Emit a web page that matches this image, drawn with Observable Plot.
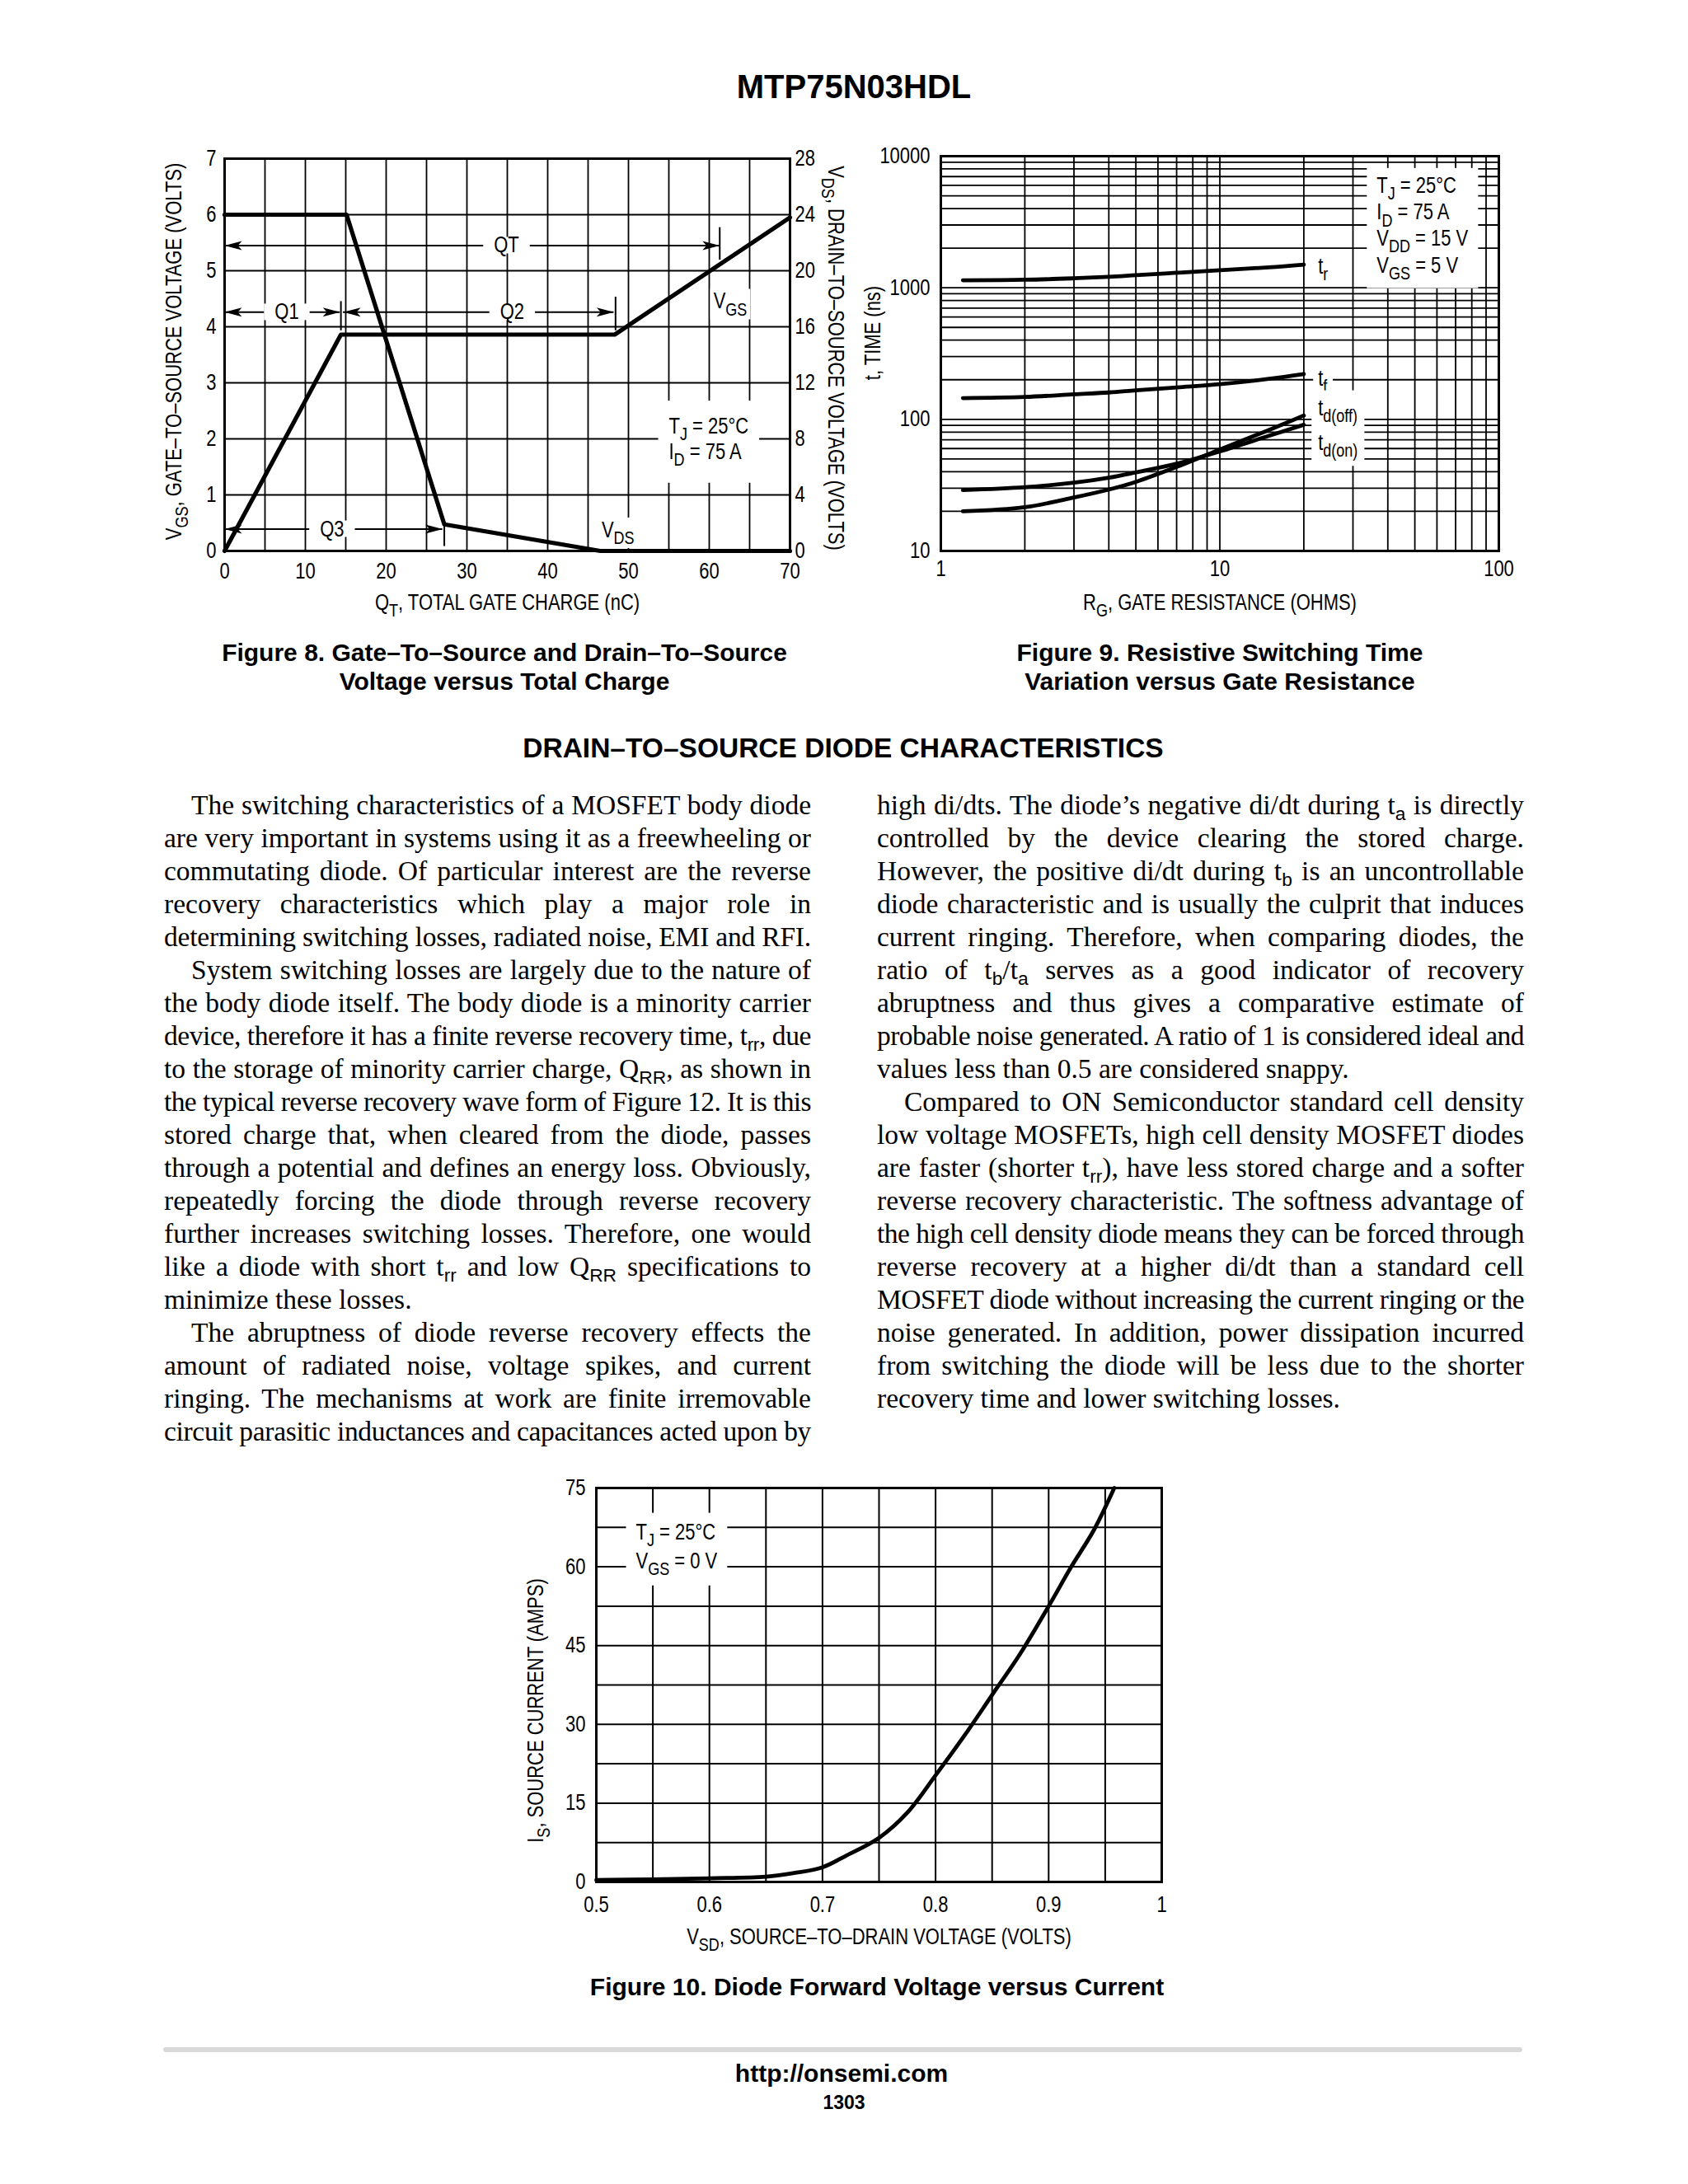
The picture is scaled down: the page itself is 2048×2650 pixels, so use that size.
<!DOCTYPE html>
<html><head><meta charset="utf-8">
<script src="https://cdn.jsdelivr.net/npm/d3@7"></script>
<script src="https://cdn.jsdelivr.net/npm/@observablehq/plot@0.6"></script>
<style>
 body{margin:0;background:#fff;}
 #page{position:relative;width:2048px;height:2650px;overflow:hidden;background:#fff;color:#000;}
 .txt{position:absolute;white-space:nowrap;transform:translate(-50%,-50%);line-height:1.15;font-family:"Liberation Sans",Arial,Helvetica,sans-serif;}
 .line{position:absolute;height:40px;line-height:40px;font-family:"Liberation Serif","Times New Roman",serif;font-size:33.5px;white-space:nowrap;}
 .line sub{font-family:"Liberation Sans",Arial,sans-serif;font-size:0.68em;vertical-align:-0.3em;line-height:0;}
</style></head><body><div id="page"></div>
<script>
// ---------------- Figure 8 data ----------------
const qGrid = [0,5,10,15,20,25,30,35,40,45,50,55,60,65,70];
const vGrid = [0,1,2,3,4,5,6,7];
const qTicks = [0,10,20,30,40,50,60,70];
const vgsTicks = [0,1,2,3,4,5,6,7];
const vdsTicks = [0,4,8,12,16,20,24,28];
const vgsCharge = [0,14.4,48.3,70];
const vgsVolts = [0,3.86,3.86,5.95];
const vdsCharge = [0,15.1,27.2,46.5,70];
const vdsVolts = [24,24,1.9,0,0];
const chargeArrowNames = ["QT","Q1","Q2","Q3"];
const chargeArrowFrom = [0,0,14.7,0];
const chargeArrowTo = [61.3,14.3,48.2,27.0];
const chargeArrowLevel = [5.45,4.26,4.26,0.39];
const chargeArrowLabelAt = [34.9,7.7,35.6,13.3];
const chargeMarkAt = [61.3,14.4,48.4,27.2];
const chargeMarkLow = [5.19,3.93,3.93,0.08];
const chargeMarkHigh = [5.77,4.45,4.53,0.47];
const fig8CurveNames = ["V{GS}","V{DS}"];
const fig8CurveLabelX = [62.6,48.7];
const fig8CurveLabelY = [4.45,0.37];
const fig8Cond = ["T{J} = 25°C","I{D} = 75 A"];
const fig8CondX = [55.0,55.0];
const fig8CondY = [2.22,1.77];

// ---------------- Figure 9 data ----------------
const rgTicks = [1,10,100];
const tTicks = [10,100,1000,10000];
const rgGrid = [1,2,3,4,5,6,7,8,9,10,20,30,40,50,60,70,80,90,100];
const tGrid = [10,20,30,40,50,60,70,80,90,100,200,300,400,500,600,700,800,900,1000,2000,3000,4000,5000,6000,7000,8000,9000,10000];
const rg = [1.2,2,3,4,5,7,10,15,20];
const tRise = [1140,1150,1180,1210,1245,1300,1360,1430,1500];
const tFall = [145,148,155,160,166,175,185,203,221];
const tDelayOff = [20,21.5,25.5,29.3,33.5,43.5,59,83,107];
const tDelayOn = [29,30.5,33,36,39.5,46,57,75,91];
const fig9Names = ["t{r}","t{f}","t{d(off)}","t{d(on)}"];
const fig9LabelX = [22.5,22.5,22.5,22.5];
const fig9LabelY = [1450,205,122,66];
const fig9Cond = ["T{J} = 25°C","I{D} = 75 A","V{DD} = 15 V","V{GS} = 5 V"];
const fig9CondX = [36.5,36.5,36.5,36.5];
const fig9CondY = [5970,3730,2380,1480];

// ---------------- Figure 10 data ----------------
const vsdTicks = [0.5,0.6,0.7,0.8,0.9,1];
const isTicks = [0,15,30,45,60,75];
const vsdGrid = [0.5,0.55,0.6,0.65,0.7,0.75,0.8,0.85,0.9,0.95,1];
const isGrid = [0,7.5,15,22.5,30,37.5,45,52.5,60,67.5,75];
const vsd = [0.5,0.55,0.6,0.65,0.675,0.7,0.72,0.75,0.775,0.8,0.825,0.85,0.875,0.9,0.92,0.94,0.958];
const isrc = [0.35,0.5,0.7,1.0,1.7,2.8,4.9,8.4,13.2,20.3,27.7,35.6,43.5,52.5,60,67,75];
const fig10Cond = ["T{J} = 25°C","V{GS} = 0 V"];
const fig10CondX = [0.535,0.535];
const fig10CondY = [66.6,61.1];

// ---------------- Text ----------------
const leftColumn = [
 {indent:true, ends:true, lines:[
  "The switching characteristics of a MOSFET body diode",
  "are very important in systems using it as a freewheeling or",
  "commutating diode. Of particular interest are the reverse",
  "recovery characteristics which play a major role in",
  "determining switching losses, radiated noise, EMI and RFI."]},
 {indent:true, ends:true, lines:[
  "System switching losses are largely due to the nature of",
  "the body diode itself. The body diode is a minority carrier",
  "device, therefore it has a finite reverse recovery time, t<sub>rr</sub>, due",
  "to the storage of minority carrier charge, Q<sub>RR</sub>, as shown in",
  "the typical reverse recovery wave form of Figure 12. It is this",
  "stored charge that, when cleared from the diode, passes",
  "through a potential and defines an energy loss. Obviously,",
  "repeatedly forcing the diode through reverse recovery",
  "further increases switching losses. Therefore, one would",
  "like a diode with short t<sub>rr</sub> and low Q<sub>RR</sub> specifications to",
  "minimize these losses."]},
 {indent:true, ends:false, lines:[
  "The abruptness of diode reverse recovery effects the",
  "amount of radiated noise, voltage spikes, and current",
  "ringing. The mechanisms at work are finite irremovable",
  "circuit parasitic inductances and capacitances acted upon by"]}
];
const rightColumn = [
 {indent:false, ends:true, lines:[
  "high di/dts. The diode’s negative di/dt during t<sub>a</sub> is directly",
  "controlled by the device clearing the stored charge.",
  "However, the positive di/dt during t<sub>b</sub> is an uncontrollable",
  "diode characteristic and is usually the culprit that induces",
  "current ringing. Therefore, when comparing diodes, the",
  "ratio of t<sub>b</sub>/t<sub>a</sub> serves as a good indicator of recovery",
  "abruptness and thus gives a comparative estimate of",
  "probable noise generated. A ratio of 1 is considered ideal and",
  "values less than 0.5 are considered snappy."]},
 {indent:true, ends:true, lines:[
  "Compared to ON Semiconductor standard cell density",
  "low voltage MOSFETs, high cell density MOSFET diodes",
  "are faster (shorter t<sub>rr</sub>), have less stored charge and a softer",
  "reverse recovery characteristic. The softness advantage of",
  "the high cell density diode means they can be forced through",
  "reverse recovery at a higher di/dt than a standard cell",
  "MOSFET diode without increasing the current ringing or the",
  "noise generated. In addition, power dissipation incurred",
  "from switching the diode will be less due to the shorter",
  "recovery time and lower switching losses."]}
];

// ---------------- helpers ----------------
const SVGNS = "http://www.w3.org/2000/svg";
const FS = 26.8;
const SQUEEZE = 0.82;
const page = document.getElementById("page");
const chartStyle = {fontFamily:'"Liberation Sans", Arial, Helvetica, sans-serif', fontSize: FS + "px", color:"#000", background:"transparent", overflow:"visible"};
const headRight = {draw(c){ c.moveTo(0,0); c.lineTo(-21,-5.5); c.lineTo(-16,0); c.lineTo(-21,5.5); c.closePath(); }};
const headLeft = {draw(c){ c.moveTo(0,0); c.lineTo(21,-5.5); c.lineTo(16,0); c.lineTo(21,5.5); c.closePath(); }};
const plain = d => String(d);

function addText(html, cx, cy, size, bold){
  const d = document.createElement("div");
  d.className = "txt";
  d.style.left = cx + "px"; d.style.top = cy + "px";
  d.style.fontSize = size + "px";
  d.style.fontWeight = bold ? "bold" : "normal";
  d.innerHTML = html;
  page.appendChild(d);
  return d;
}

function applySubs(t){
  const s = t.textContent;
  if (!s.includes("{")) return;
  const fs = parseFloat(getComputedStyle(t).fontSize) || FS;
  const parts = s.split(/(\{[^}]*\})/).filter(p => p.length);
  t.textContent = "";
  const shift = 0.3 * fs;
  let down = false;
  for (const p of parts){
    const ts = document.createElementNS(SVGNS, "tspan");
    if (p[0] === "{"){
      ts.textContent = p.slice(1, -1);
      ts.setAttribute("font-size", (0.82 * fs).toFixed(2));
      if (!down){ ts.setAttribute("dy", shift.toFixed(2)); down = true; }
    } else {
      ts.textContent = p;
      if (down){ ts.setAttribute("dy", (-shift).toFixed(2)); down = false; }
    }
    t.appendChild(ts);
  }
}

function knockout(svg, specs){
  const texts = [...svg.querySelectorAll("text")];
  for (const sp of specs){
    const found = texts.filter(t => sp.texts.includes(t.textContent));
    if (!found.length) continue;
    const groups = sp.union ? [found] : found.map(t => [t]);
    for (const grp of groups){
      let x0 = Infinity, y0 = Infinity, x1 = -Infinity, y1 = -Infinity;
      for (const t of grp){
        const r = t.getBoundingClientRect();
        x0 = Math.min(x0, r.left); y0 = Math.min(y0, r.top);
        x1 = Math.max(x1, r.right); y1 = Math.max(y1, r.bottom);
      }
      const parent = grp[0].parentNode;
      const m = parent.getScreenCTM().inverse();
      const a = new DOMPoint(x0 - sp.px, y0 - sp.py).matrixTransform(m);
      const b = new DOMPoint(x1 + sp.px, y1 + sp.py).matrixTransform(m);
      const rect = document.createElementNS(SVGNS, "rect");
      rect.setAttribute("x", Math.min(a.x, b.x)); rect.setAttribute("y", Math.min(a.y, b.y));
      rect.setAttribute("width", Math.abs(b.x - a.x)); rect.setAttribute("height", Math.abs(b.y - a.y));
      rect.setAttribute("fill", "#fff"); rect.setAttribute("stroke", "none");
      parent.insertBefore(rect, grp[0]);
    }
  }
}

function mount(svg, left, top, specs){
  svg.style.position = "absolute";
  svg.style.left = left + "px";
  svg.style.top = top + "px";
  page.appendChild(svg);
  svg.querySelectorAll("text").forEach(applySubs);
  svg.querySelectorAll("text").forEach(t => {
    const L = t.getComputedTextLength();
    if (L > 0){ t.setAttribute("textLength", (L * SQUEEZE).toFixed(2)); t.setAttribute("lengthAdjust", "spacingAndGlyphs"); }
  });
  knockout(svg, specs);
}

const title = (txt, o) => Plot.text([txt], {textAnchor: "middle", lineAnchor: "middle", ...o});

// ---------------- Figure 8 ----------------
function fig8(){
  const vgs = vgsCharge.map((q, i) => ({q, v: vgsVolts[i]}));
  const vds = vdsCharge.map((q, i) => ({q, v: vdsVolts[i]}));
  const arrows = chargeArrowNames.map((name, i) => ({name, x1: chargeArrowFrom[i], x2: chargeArrowTo[i], y: chargeArrowLevel[i], lx: chargeArrowLabelAt[i], mx: chargeMarkAt[i], m1: chargeMarkLow[i], m2: chargeMarkHigh[i]}));
  const curveLabels = fig8CurveNames.map((name, i) => ({name, x: fig8CurveLabelX[i], y: fig8CurveLabelY[i]}));
  const cond = fig8Cond.map((name, i) => ({name, x: fig8CondX[i], y: fig8CondY[i]}));
  const svg = Plot.plot({
    width: 900, height: 600, marginLeft: 132, marginRight: 82, marginTop: 42, marginBottom: 82,
    style: chartStyle,
    x: {domain: [0, 70], ticks: qTicks, tickFormat: plain, tickSize: 0, tickPadding: 14, label: null},
    y: {domain: [0, 7], ticks: vgsTicks, tickFormat: plain, tickSize: 0, tickPadding: 10, label: null},
    marks: [
      Plot.ruleX(qGrid, {stroke: "#000", strokeWidth: 1.8}),
      Plot.ruleY(vGrid, {stroke: "#000", strokeWidth: 1.8}),
      Plot.ruleY(arrows, {y: "y", x1: "x1", x2: "x2", stroke: "#000", strokeWidth: 2}),
      Plot.ruleX(arrows, {x: "mx", y1: "m1", y2: "m2", stroke: "#000", strokeWidth: 2}),
      Plot.text(arrows, {x: "lx", y: "y", text: "name", fontSize: FS}),
      Plot.text(curveLabels, {x: "x", y: "y", text: "name", fontSize: FS}),
      Plot.text(cond, {x: "x", y: "y", text: "name", textAnchor: "start", fontSize: FS}),
      Plot.line(vgs, {x: "q", y: "v", stroke: "#000", strokeWidth: 5.2}),
      Plot.line(vds, {x: "q", y: d => d.v / 4, stroke: "#000", strokeWidth: 5.2}),
      Plot.dot(arrows, {x: "x1", y: "y", symbol: headLeft, fill: "#000", stroke: "none"}),
      Plot.dot(arrows, {x: "x2", y: "y", symbol: headRight, fill: "#000", stroke: "none"}),
      Plot.text(vdsTicks, {y: d => d / 4, text: plain, frameAnchor: "right", textAnchor: "start", lineAnchor: "middle", dx: 6}),
      title("Q{T}, TOTAL GATE CHARGE (nC)", {frameAnchor: "bottom", dy: 63}),
      title("V{GS}, GATE–TO–SOURCE VOLTAGE (VOLTS)", {frameAnchor: "left", dx: -61, dy: -4, rotate: -90}),
      title("V{DS}, DRAIN–TO–SOURCE VOLTAGE (VOLTS)", {frameAnchor: "right", dx: 55, dy: 4, rotate: 90}),
      Plot.frame({stroke: "#000", strokeWidth: 3})
    ]
  });
  mount(svg, 140, 150, [
    {texts: ["QT", "Q1", "Q2", "Q3"], px: 13, py: -5},
    {texts: ["VGS", "VDS"], px: 4, py: 0},
    {texts: ["TJ = 25°C", "ID = 75 A"], union: true, px: 13, py: 16}
  ]);
}

// ---------------- Figure 9 ----------------
function fig9(){
  const series = [tRise, tFall, tDelayOff, tDelayOn];
  const rows = [];
  series.forEach((vals, s) => rg.forEach((r, i) => rows.push({rg: r, t: vals[i], s})));
  const labels = fig9Names.map((name, i) => ({name, x: fig9LabelX[i], y: fig9LabelY[i]}));
  const cond = fig9Cond.map((name, i) => ({name, x: fig9CondX[i], y: fig9CondY[i]}));
  const svg = Plot.plot({
    width: 825, height: 600, marginLeft: 106, marginRight: 42, marginTop: 39, marginBottom: 82,
    style: chartStyle,
    x: {type: "log", domain: [1, 100], ticks: rgTicks, tickFormat: plain, tickSize: 0, tickPadding: 11, label: null},
    y: {type: "log", domain: [10, 10000], ticks: tTicks, tickFormat: plain, tickSize: 0, tickPadding: 13, label: null},
    marks: [
      Plot.ruleX(rgGrid, {stroke: "#000", strokeWidth: 1.8}),
      Plot.ruleY(tGrid, {stroke: "#000", strokeWidth: 1.8}),
      Plot.text(labels, {x: "x", y: "y", text: "name", textAnchor: "start", fontSize: FS}),
      Plot.text(cond, {x: "x", y: "y", text: "name", textAnchor: "start", fontSize: FS}),
      Plot.line(rows, {x: "rg", y: "t", z: "s", stroke: "#000", strokeWidth: 4.8, curve: "catmull-rom"}),
      title("R{G}, GATE RESISTANCE (OHMS)", {frameAnchor: "bottom", dy: 63}),
      title("t, TIME (ns)", {frameAnchor: "left", dx: -82, dy: -25, rotate: -90}),
      Plot.frame({stroke: "#000", strokeWidth: 3})
    ]
  });
  mount(svg, 1035, 150, [
    {texts: ["TJ = 25°C", "ID = 75 A", "VDD = 15 V", "VGS = 5 V"], union: true, px: 12, py: 6},
    {texts: ["tf"], px: 6, py: -2},
    {texts: ["td(off)", "td(on)"], union: true, px: 8, py: 6}
  ]);
}

// ---------------- Figure 10 ----------------
function fig10(){
  const pts = vsd.map((v, i) => ({v, i: isrc[i]}));
  const cond = fig10Cond.map((name, i) => ({name, x: fig10CondX[i], y: fig10CondY[i]}));
  const svg = Plot.plot({
    width: 850, height: 610, marginLeft: 123, marginRight: 41, marginTop: 35, marginBottom: 97,
    style: chartStyle,
    x: {domain: [0.5, 1], ticks: vsdTicks, tickFormat: d => String(+d.toFixed(2)), tickSize: 0, tickPadding: 17, label: null},
    y: {domain: [0, 75], ticks: isTicks, tickFormat: plain, tickSize: 0, tickPadding: 13, label: null},
    marks: [
      Plot.ruleX(vsdGrid, {stroke: "#000", strokeWidth: 2}),
      Plot.ruleY(isGrid, {stroke: "#000", strokeWidth: 2}),
      Plot.text(cond, {x: "x", y: "y", text: "name", textAnchor: "start", fontSize: FS}),
      Plot.line(pts, {x: "v", y: "i", stroke: "#000", strokeWidth: 4.8, curve: "catmull-rom"}),
      title("V{SD}, SOURCE–TO–DRAIN VOLTAGE (VOLTS)", {frameAnchor: "bottom", dy: 67}),
      title("I{S}, SOURCE CURRENT (AMPS)", {frameAnchor: "left", dx: -73, dy: 31, rotate: -90}),
      Plot.frame({stroke: "#000", strokeWidth: 3})
    ]
  });
  mount(svg, 600, 1770, [
    {texts: ["TJ = 25°C", "VGS = 0 V"], union: true, px: 12, py: 8}
  ]);
}

// ---------------- body text ----------------
function buildColumn(col, x, y0, width){
  const LH = 40;
  let k = 0;
  col.forEach(par => {
    par.lines.forEach((html, i) => {
      const indent = (par.indent && i === 0) ? 33 : 0;
      const div = document.createElement("div");
      div.className = "line";
      div.style.left = (x + indent) + "px";
      div.style.top = (y0 + k * LH - 22) + "px";
      const span = document.createElement("span");
      span.innerHTML = html;
      div.appendChild(span);
      page.appendChild(div);
      const w = span.getBoundingClientRect().width;
      const avail = width - indent;
      const isLast = par.ends && i === par.lines.length - 1;
      const txt = span.textContent;
      const spaces = (txt.match(/ /g) || []).length;
      if (w > avail){
        span.style.letterSpacing = ((avail - w) / txt.length).toFixed(3) + "px";
      } else if (!isLast && spaces){
        span.style.wordSpacing = ((avail - w) / spaces).toFixed(3) + "px";
      }
      k++;
    });
  });
}

// ---------------- page ----------------
addText("MTP75N03HDL", 1036, 105, 40, true);
try { fig8(); } catch (e) { console.error(e); }
try { fig9(); } catch (e) { console.error(e); }
addText("Figure 8. Gate–To–Source and Drain–To–Source", 612, 792, 30, true);
addText("Voltage versus Total Charge", 612, 827, 30, true);
addText("Figure 9. Resistive Switching Time", 1480, 792, 30, true);
addText("Variation versus Gate Resistance", 1480, 827, 30, true);
addText("DRAIN–TO–SOURCE DIODE CHARACTERISTICS", 1023, 908, 33.5, true);
buildColumn(leftColumn, 199, 979, 785);
buildColumn(rightColumn, 1064, 979, 785);
try { fig10(); } catch (e) { console.error(e); }
addText("Figure 10. Diode Forward Voltage versus Current", 1064, 2411, 30, true);
const rule = document.createElement("div");
rule.style.cssText = "position:absolute;left:198px;top:2484px;width:1649px;height:6px;background:#d9d9d9;border-radius:3px;";
page.appendChild(rule);
addText("http://onsemi.com", 1021, 2516, 30, true);
addText("1303", 1024, 2551, 23, true);
</script></body></html>
